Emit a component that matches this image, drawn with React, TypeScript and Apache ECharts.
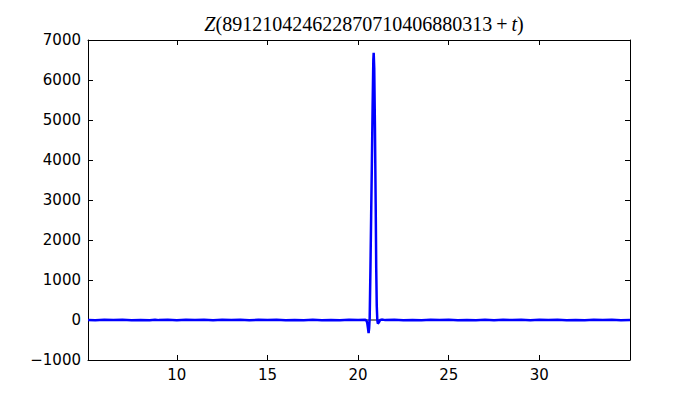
import React, { useEffect, useRef } from "react";
import * as echarts from "echarts";

// t values (offset from 891210424622870710406880313) and Z values
const tValues = [
  5.1, 5.5, 6.0, 6.5, 7.0, 7.5, 8.0, 8.5, 8.8, 9.0,
  9.5, 10.0, 10.5, 11.0, 11.5, 12.0, 12.5, 13.0, 13.5, 14.0,
  14.5, 15.0, 15.5, 16.0, 16.5, 17.0, 17.5, 18.0, 18.5, 19.0,
  19.5, 20.0, 20.4, 20.45, 20.5, 20.55, 20.58, 20.61, 20.64, 20.68,
  20.72, 20.76, 20.8, 20.84, 20.86, 20.89, 20.93, 20.97, 21.0, 21.03,
  21.06, 21.09, 21.12, 21.16, 21.22, 21.3, 21.5, 22.0, 22.5, 23.0,
  23.5, 24.0, 24.5, 25.0, 25.5, 26.0, 26.5, 27.0, 27.5, 28.0,
  28.5, 29.0, 29.5, 30.0, 30.5, 31.0, 31.5, 32.0, 32.5, 33.0,
  33.5, 34.0, 34.5, 35.0,
];
const zValues = [
  2, -4, 5, -3, 6, -5, 3, -7, 9, -3,
  4, -6, 7, -3, 5, -4, 8, -2, 4, -6,
  5, -3, 7, -5, 2, -4, 6, -4, 3, -7,
  5, 3, 4, -10, -60, -220, -330, -200, 50, 1250,
  2600, 3900, 5300, 6500, 6680, 6300, 4800, 2900, 1300, 350,
  0, -90, -100, -50, 0, 10, -3, 7, -4, 3,
  -6, 5, -2, 4, -6, 3, -4, 6, -5, 7,
  -3, 5, -5, 4, -3, 6, -4, 3, -6, 4,
  -2, 5, -4, 2,
];
const xMin = 5.1;
const xMax = 35.0;
const yTicks = [-1000, 0, 1000, 2000, 3000, 4000, 5000, 6000, 7000];

export default function App() {
  const ref = useRef<HTMLDivElement>(null);
  useEffect(() => {
    document.body.style.margin = "0";
    if (!ref.current) return;
    const chart = echarts.init(ref.current, undefined, { renderer: "svg" });
    const data = tValues.map((t, i) => [t, zValues[i]]);
    const axisLine = { show: true, onZero: false, lineStyle: { color: "#000", width: 1 } };
    const tick = { show: true, inside: true, length: 5, lineStyle: { color: "#000" } };
    chart.setOption({
      animation: false,
      backgroundColor: "#fff",
      title: {
        text: "{i|Z}{n|(891210424622870710406880313\u2009+\u2009}{i|t}{n|)}",
        left: 359,
        textAlign: "center",
        top: 9,
        textStyle: {
          fontWeight: "normal",
          rich: {
            i: { fontFamily: "Liberation Serif", fontStyle: "italic", fontWeight: "normal", fontSize: 20, color: "#000" },
            n: { fontFamily: "Liberation Serif", fontWeight: "normal", fontSize: 20, color: "#000" },
          },
        },
      },
      grid: { left: 88, right: 70, top: 40, bottom: 40, containLabel: false },
      xAxis: [
        {
          type: "value",
          min: xMin,
          max: xMax,
          splitNumber: 6,
          axisLine,
          axisTick: tick,
          splitLine: { show: false },
          axisLabel: {
            showMinLabel: false,
            showMaxLabel: false,
            color: "#000",
            fontFamily: "DejaVu Sans",
            fontSize: 15,
            margin: 7,
          },
        },
        {
          type: "value",
          position: "top",
          min: xMin,
          max: xMax,
          splitNumber: 6,
          axisLine,
          axisTick: tick,
          splitLine: { show: false },
          axisLabel: { show: false },
        },
      ],
      yAxis: [
        {
          type: "value",
          min: yTicks[0],
          max: yTicks[yTicks.length - 1],
          interval: 1000,
          axisLine,
          axisTick: tick,
          splitLine: { show: false },
          axisLabel: {
            color: "#000",
            fontFamily: "DejaVu Sans",
            fontSize: 15,
            margin: 7,
            formatter: (v: number) => String(v).replace("-", "\u2212"),
          },
        },
        {
          type: "value",
          position: "right",
          min: yTicks[0],
          max: yTicks[yTicks.length - 1],
          interval: 1000,
          axisLine,
          axisTick: tick,
          splitLine: { show: false },
          axisLabel: { show: false },
        },
      ],
      series: [
        {
          type: "line",
          data: [[xMin, 0], [xMax, 0]],
          symbol: "none",
          lineStyle: { color: "#000", width: 1 },
          z: 1,
          silent: true,
        },
        {
          type: "line",
          data,
          symbol: "none",
          smooth: false,
          lineStyle: { color: "#0000ff", width: 2.5 },
          z: 3,
        },
      ],
    });
    return () => chart.dispose();
  }, []);
  return <div ref={ref} style={{ width: 700, height: 400 }} />;
}
